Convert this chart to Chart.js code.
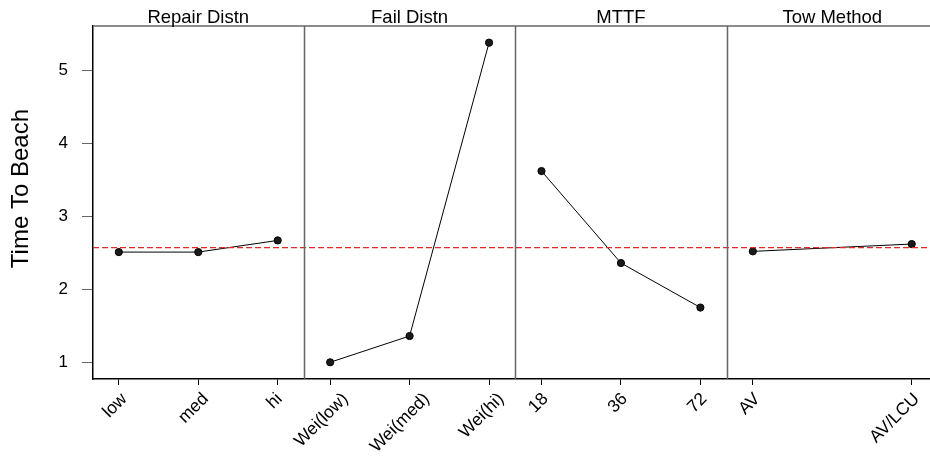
<!DOCTYPE html>
<html><head><meta charset="utf-8">
<script src="https://cdn.jsdelivr.net/npm/chart.js@4"></script>
<style>html,body{margin:0;padding:0;background:#fff}#wrap{width:930px;height:460px;position:relative}</style>
</head><body><div id="wrap"><canvas id="c"></canvas></div>
<script>
const factors = ['Repair Distn', 'Fail Distn', 'MTTF', 'Tow Method'];
const repairLevels = ['low', 'med', 'hi'];
const repairMeans = [2.51, 2.51, 2.67];
const failLevels = ['Wei(low)', 'Wei(med)', 'Wei(hi)'];
const failMeans = [1.00, 1.36, 5.38];
const mttfLevels = ['18', '36', '72'];
const mttfMeans = [3.62, 2.36, 1.75];
const towLevels = ['AV', 'AV/LCU'];
const towMeans = [2.52, 2.62];
const grandMean = 2.57;
const yTicks = [1, 2, 3, 4, 5];
const yTitle = 'Time To Beach';

const panels = [[repairLevels, repairMeans], [failLevels, failMeans], [mttfLevels, mttfMeans], [towLevels, towMeans]];
const PANEL_W = 2.66, PAD = 0.33;
const xMin = -0.325, xMax = 10.21;
const tickPos = [], tickLab = [];
const datasets = panels.map(([lv, mv], p) => {
  const n = lv.length;
  const pts = lv.map((l, i) => {
    const x = p * PANEL_W + i * 2 / (n - 1);
    tickPos.push(x); tickLab.push(l);
    return {x: x, y: mv[i]};
  });
  return {data: pts, borderColor: '#000', borderWidth: 1, pointRadius: 3.6,
    pointBackgroundColor: '#1a1a1a', pointBorderColor: '#000', pointBorderWidth: 1,
    showLine: true, tension: 0, order: 1};
});
datasets.push({data: [{x: xMin, y: grandMean}, {x: xMax, y: grandMean}], borderColor: '#e02a2a',
  borderWidth: 1.2, borderDash: [6, 3], pointRadius: 0, showLine: true, order: 0});

const FONT = '"Liberation Sans", Arial, sans-serif';
Chart.defaults.font.family = FONT;
Chart.defaults.color = '#000';

const panelPlugin = {
  id: 'panels',
  afterDraw(chart) {
    const ctx = chart.ctx, a = chart.chartArea, xs = chart.scales.x, ys = chart.scales.y;
    ctx.save();
    ctx.strokeStyle = '#666'; ctx.lineWidth = 1.5;
    ctx.beginPath(); ctx.moveTo(a.left, a.top); ctx.lineTo(a.right, a.top); ctx.stroke();
    for (let p = 1; p < factors.length; p++) {
      const x = Math.round(xs.getPixelForValue(p * PANEL_W - PAD)) + 0.5;
      ctx.beginPath(); ctx.moveTo(x, a.top); ctx.lineTo(x, a.bottom); ctx.stroke();
    }
    ctx.fillStyle = '#000';
    ctx.font = '18.5px ' + FONT;
    ctx.textAlign = 'center'; ctx.textBaseline = 'alphabetic';
    factors.forEach((f, p) => {
      const cx = xs.getPixelForValue(p * PANEL_W - PAD + PANEL_W / 2);
      ctx.fillText(f, cx, 23);
    });
    // rotated category labels, box top-aligned below the axis and centred near the tick
    ctx.font = '17.5px ' + FONT;
    ctx.textAlign = 'center'; ctx.textBaseline = 'middle';
    const top = a.bottom + 11;
    const maxRight = chart.width - 8;
    tickPos.forEach((v, i) => {
      const w = ctx.measureText(tickLab[i]).width;
      const ext = (w + 15) * Math.SQRT1_2;
      let cx = xs.getPixelForValue(v) - 3 - 0.12 * Math.max(0, w - 20);
      cx = Math.min(cx, maxRight - ext / 2);
      ctx.save();
      ctx.translate(cx, top + ext / 2 + 1);
      ctx.rotate(-Math.PI / 4);
      ctx.fillText(tickLab[i], 0, 0);
      ctx.restore();
    });
    // y axis title
    ctx.font = '24px ' + FONT;
    ctx.textBaseline = 'middle';
    ctx.translate(21, ys.getPixelForValue(3.38));
    ctx.rotate(-Math.PI / 2);
    ctx.fillText(yTitle, 0, 0);
    ctx.restore();
  }
};

new Chart(document.getElementById('c'), {
  type: 'scatter',
  data: {datasets: datasets},
  plugins: [panelPlugin],
  options: {
    responsive: true, maintainAspectRatio: false, animation: false,
    layout: {autoPadding: false, padding: {top: 26, right: 0, left: 0, bottom: 0}},
    plugins: {legend: {display: false}, tooltip: {enabled: false}},
    scales: {
      x: {
        type: 'linear', min: xMin, max: xMax,
        afterBuildTicks: s => { s.ticks = tickPos.map(v => ({value: v})); },
        afterFit: s => { s.height = 81; s.paddingLeft = 0; s.paddingRight = 0; },
        ticks: {display: false, autoSkip: false},
        grid: {drawOnChartArea: false, drawTicks: true, tickLength: 6, color: '#000'},
        border: {color: '#000', width: 1.5}
      },
      y: {
        type: 'linear', min: 0.771, max: 5.608,
        afterBuildTicks: s => { s.ticks = yTicks.map(v => ({value: v})); },
        afterFit: s => { s.width = 93; s.paddingTop = 0; s.paddingBottom = 0; },
        ticks: {font: {size: 17}, color: '#000', padding: 14},
        grid: {drawOnChartArea: false, drawTicks: true, tickLength: 11, color: '#666'},
        border: {color: '#000', width: 1.5},
        title: {display: false}
      }
    }
  }
});
</script></body></html>
